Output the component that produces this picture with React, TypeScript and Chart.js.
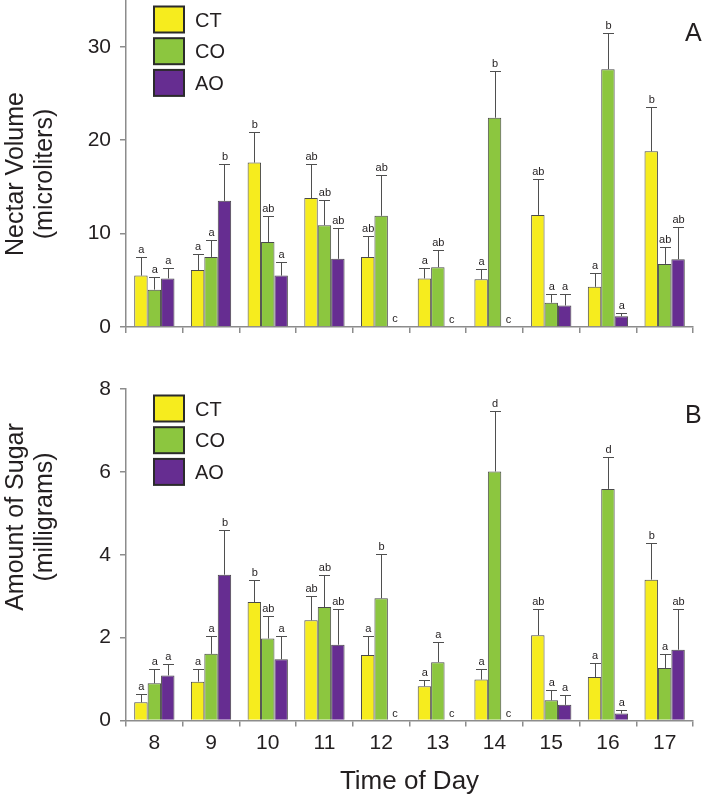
import React, { useEffect, useRef } from "react";
import { Chart, registerables } from "chart.js";

Chart.register(...registerables);

// ---------- data ----------
const hours = ["8", "9", "10", "11", "12", "13", "14", "15", "16", "17"];
const seriesNames = ["CT", "CO", "AO"];
const seriesColors = ["#f6ec1e", "#8cc63f", "#662d91"];

// Panel A: nectar volume (microliters), mean and SE
const volCT = [5.5, 6.1, 17.6, 13.8, 7.5, 5.2, 5.1, 12.0, 4.3, 18.8];
const volCTse = [2.0, 1.7, 3.3, 3.7, 2.2, 1.15, 1.15, 3.85, 1.5, 4.8];
const volCTletters = ["a", "a", "b", "ab", "ab", "a", "a", "ab", "a", "b"];
const volCO = [4.0, 7.5, 9.1, 10.9, 11.9, 6.4, 22.4, 2.6, 27.6, 6.75];
const volCOse = [1.3, 1.85, 2.75, 2.7, 4.4, 1.8, 5.0, 0.95, 3.9, 1.85];
const volCOletters = ["a", "a", "ab", "ab", "ab", "ab", "b", "a", "b", "ab"];
const volAO = [5.2, 13.5, 5.5, 7.3, 0.1, 0, 0, 2.3, 1.15, 7.25];
const volAOse = [1.1, 4.0, 1.5, 3.3, 0, 0, 0, 1.2, 0.35, 3.5];
const volAOletters = ["a", "b", "a", "ab", "c", "c", "c", "a", "a", "ab"];
const volTicks = [0, 10, 20, 30];
const volMax = 35;

// Panel B: amount of sugar (milligrams), mean and SE
const sugCT = [0.44, 0.94, 2.86, 2.42, 1.58, 0.83, 0.99, 2.06, 1.05, 3.4];
const sugCTse = [0.19, 0.3, 0.53, 0.58, 0.46, 0.16, 0.26, 0.64, 0.34, 0.88];
const sugCTletters = ["a", "a", "b", "ab", "a", "a", "a", "ab", "a", "b"];
const sugCO = [0.9, 1.61, 1.98, 2.74, 2.95, 1.41, 6.01, 0.49, 5.59, 1.27];
const sugCOse = [0.35, 0.43, 0.55, 0.78, 1.08, 0.48, 1.45, 0.26, 0.78, 0.33];
const sugCOletters = ["a", "a", "ab", "ab", "b", "a", "d", "a", "d", "a"];
const sugAO = [1.09, 3.52, 1.48, 1.83, 0, 0, 0, 0.38, 0.17, 1.71];
const sugAOse = [0.27, 1.09, 0.56, 0.87, 0, 0, 0, 0.24, 0.08, 0.99];
const sugAOletters = ["a", "b", "a", "ab", "c", "c", "c", "a", "a", "ab"];
const sugTicks = [0, 2, 4, 6, 8];
const sugMax = 8;

// ---------- styles ----------
const FONT = "'Liberation Sans', Arial, Helvetica, sans-serif";
const AXIS = "#8c8c8c";
const TEXT = "#231f20";

type PanelProps = {
  means: number[][];
  ses: number[][];
  letters: string[][];
  yMax: number;
  yTicks: number[];
  titleLines: string[];
  panelLabel: string;
  showX: boolean;
  width: number;
  height: number;
  top: number;
  padTop: number;
  xHeight: number;
  titleCenterY: number;
  labelBaseline: number;
};

const annotatePlugin = {
  id: "annotate",
  afterDatasetsDraw(chart: any, _args: any, opts: any) {
    const ctx = chart.ctx;
    const yScale = chart.scales.y;
    ctx.save();
    chart.data.datasets.forEach((ds: any, i: number) => {
      const meta = chart.getDatasetMeta(i);
      meta.data.forEach((bar: any, j: number) => {
        const v = ds.data[j];
        const se = opts.ses[i][j];
        const x = bar.x;
        const yBar = yScale.getPixelForValue(v);
        const yTop = yScale.getPixelForValue(v + se);
        if (se > 0) {
          ctx.strokeStyle = "#4f4f4f";
          ctx.lineWidth = 1;
          ctx.beginPath();
          ctx.moveTo(Math.round(x) + 0.5, yBar);
          ctx.lineTo(Math.round(x) + 0.5, Math.round(yTop) + 0.5);
          ctx.moveTo(Math.round(x) - 5, Math.round(yTop) + 0.5);
          ctx.lineTo(Math.round(x) + 6, Math.round(yTop) + 0.5);
          ctx.stroke();
        }
        const letter = opts.letters[i][j];
        if (letter) {
          ctx.fillStyle = TEXT;
          ctx.font = `11px ${FONT}`;
          ctx.textAlign = "center";
          ctx.textBaseline = "alphabetic";
          ctx.fillText(letter, x + 0.5, yTop - 4);
        }
      });
    });
    ctx.restore();
  },
  afterDraw(chart: any, _args: any, opts: any) {
    const ctx = chart.ctx;
    const ca = chart.chartArea;
    ctx.save();
    // legend
    chart.data.datasets.forEach((ds: any, i: number) => {
      const bx = ca.left + 28;
      const by = ca.top + 6.5 + i * 31.7;
      ctx.fillStyle = ds.backgroundColor;
      ctx.fillRect(bx, by, 30, 26);
      ctx.strokeStyle = "#2b2b2b";
      ctx.lineWidth = 2;
      ctx.strokeRect(bx, by, 30, 26);
      ctx.fillStyle = TEXT;
      ctx.font = `20px ${FONT}`;
      ctx.textAlign = "left";
      ctx.textBaseline = "alphabetic";
      ctx.fillText(ds.label, ca.left + 69, by + 20);
    });
    // panel label
    ctx.fillStyle = TEXT;
    ctx.font = `25px ${FONT}`;
    ctx.textAlign = "left";
    ctx.textBaseline = "alphabetic";
    ctx.fillText(opts.panelLabel, ca.right - 8, opts.labelBaseline);
    // y axis title (two lines, rotated)
    ctx.font = `25px ${FONT}`;
    ctx.textAlign = "center";
    opts.titleLines.forEach((line: string, k: number) => {
      ctx.save();
      ctx.translate(22.5 + k * 29, opts.titleCenterY);
      ctx.rotate(-Math.PI / 2);
      ctx.fillText(line, 0, 0);
      ctx.restore();
    });
    ctx.restore();
  },
};

function Panel(p: PanelProps) {
  const ref = useRef<HTMLCanvasElement>(null);
  useEffect(() => {
    if (!ref.current) return;
    const chart = new Chart(ref.current, {
      type: "bar",
      data: {
        labels: hours,
        datasets: seriesNames.map((name, i) => ({
          label: name,
          data: p.means[i],
          backgroundColor: seriesColors[i],
          borderColor: "#4a4a4a",
          borderWidth: 1,
          categoryPercentage: 0.71,
          barPercentage: 1.0,
        })),
      },
      options: {
        responsive: false,
        animation: false,
        layout: { padding: { left: 0, right: 11, top: p.padTop, bottom: 0 } },
        plugins: {
          legend: { display: false },
          tooltip: { enabled: false },
          annotate: {
            ses: p.ses,
            letters: p.letters,
            titleLines: p.titleLines,
            panelLabel: p.panelLabel,
            titleCenterY: p.titleCenterY,
            labelBaseline: p.labelBaseline,
          },
        } as any,
        scales: {
          x: {
            type: "category",
            offset: true,
            grid: {
              display: true,
              offset: true,
              drawOnChartArea: false,
              drawTicks: true,
              tickLength: 6,
              color: AXIS,
              lineWidth: 1.5,
            },
            border: { display: true, color: AXIS, width: 1.5 },
            ticks: {
              display: p.showX,
              color: TEXT,
              font: { family: FONT, size: 21 },
              padding: 4,
              maxRotation: 0,
              autoSkip: false,
            },
            title: {
              display: p.showX,
              text: "Time of Day",
              color: TEXT,
              font: { family: FONT, size: 26 },
              padding: { top: 0, bottom: 2 },
            },
            afterFit: (s: any) => {
              s.height = p.xHeight;
              s.paddingLeft = 0;
              s.paddingRight = 0;
            },
          },
          y: {
            min: 0,
            max: p.yMax,
            afterBuildTicks: (s: any) => {
              s.ticks = p.yTicks.map((v) => ({ value: v }));
            },
            grid: {
              display: true,
              drawOnChartArea: false,
              drawTicks: true,
              tickLength: 6,
              color: AXIS,
              lineWidth: 1.5,
            },
            border: { display: true, color: AXIS, width: 1.5 },
            ticks: {
              color: TEXT,
              font: { family: FONT, size: 21 },
              padding: 9,
            },
            afterFit: (s: any) => {
              s.width = 126;
              s.paddingTop = 0;
              s.paddingBottom = 0;
            },
          },
        },
      },
      plugins: [annotatePlugin],
    } as any);
    return () => chart.destroy();
  }, []);
  return (
    <div style={{ position: "absolute", left: 0, top: p.top, width: p.width, height: p.height }}>
      <canvas ref={ref} width={p.width} height={p.height} style={{ display: "block" }} />
    </div>
  );
}

export default function App() {
  useEffect(() => {
    document.body.style.margin = "0";
    document.body.style.background = "#ffffff";
  }, []);
  return (
    <div style={{ position: "relative", width: 704, height: 799, background: "#fff" }}>
      <Panel
        means={[volCT, volCO, volAO]}
        ses={[volCTse, volCOse, volAOse]}
        letters={[volCTletters, volCOletters, volAOletters]}
        yMax={volMax}
        yTicks={volTicks}
        titleLines={["Nectar Volume", "(microliters)"]}
        panelLabel="A"
        showX={false}
        width={704}
        height={345}
        top={0}
        padTop={0}
        xHeight={18}
        titleCenterY={174}
        labelBaseline={40.5}
      />
      <Panel
        means={[sugCT, sugCO, sugAO]}
        ses={[sugCTse, sugCOse, sugAOse]}
        letters={[sugCTletters, sugCOletters, sugAOletters]}
        yMax={sugMax}
        yTicks={sugTicks}
        titleLines={["Amount of Sugar", "(milligrams)"]}
        panelLabel="B"
        showX={true}
        width={704}
        height={434}
        top={365}
        padTop={24}
        xHeight={78.4}
        titleCenterY={152}
        labelBaseline={58.3}
      />
    </div>
  );
}
